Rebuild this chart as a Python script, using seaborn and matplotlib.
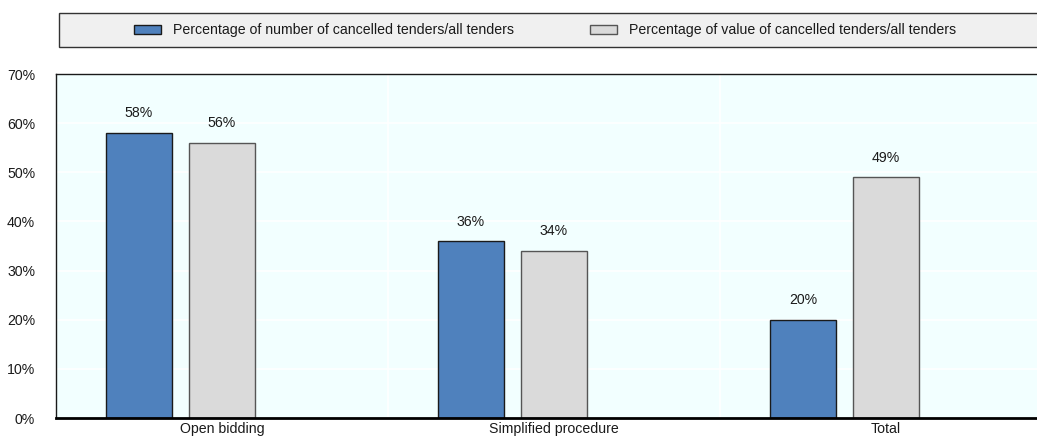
import matplotlib
matplotlib.use("Agg")
import matplotlib.pyplot as plt
from matplotlib.patches import Rectangle
from matplotlib.ticker import PercentFormatter, FixedLocator
import numpy as np
import pandas as pd
import seaborn as sns

# Data
categories = ["Open bidding", "Simplified procedure", "Total"]
series_names = [
    "Percentage of number of cancelled tenders/all tenders",
    "Percentage of value of cancelled tenders/all tenders",
]
share_number = [58, 36, 20]
share_value = [56, 34, 49]
y_ticks = [0, 10, 20, 30, 40, 50, 60, 70]

colors = ["#4F81BD", "#DADADA"]
edge_colors = ["#1a1a1a", "#555555"]

# Long-form table; a third, empty hue slot keeps the offset bar layout
spacer = "_spacer"
df = pd.DataFrame({
    "category": categories * 3,
    "series": [series_names[0]] * 3 + [series_names[1]] * 3 + [spacer] * 3,
    "value": share_number + share_value + [np.nan] * 3,
})

sns.set_theme(style="white")
plt.rcParams["font.family"] = ["Liberation Sans", "DejaVu Sans"]
plt.rcParams["font.size"] = 10

fig = plt.figure(figsize=(10.37, 4.42), dpi=100)
W, H = 1037, 442
ax = fig.add_axes([56 / W, 24 / H, (1052 - 56) / W, (418 - 74) / H])
ax.set_facecolor("#F2FFFF")

sns.barplot(
    data=df, x="category", y="value", hue="series",
    order=categories, hue_order=series_names + [spacer],
    palette=colors + ["#ffffff"], saturation=1, width=0.75, gap=0.2,
    linewidth=1.0, legend=False, ax=ax, errorbar=None,
)

containers = [c for c in ax.containers if len(c) > 0][:2]
for cont, ec, vals in zip(containers, edge_colors, [share_number, share_value]):
    for p in cont:
        p.set_edgecolor(ec)
        p.set_linewidth(1.0)
    ax.bar_label(cont, labels=[f"{v:.0f}%" for v in vals], padding=9,
                 fontsize=10.2, color="#1a1a1a")

ax.set_xlim(-0.5, 2.5)
ax.set_ylim(0, 70)
ax.yaxis.set_major_locator(FixedLocator(y_ticks))
ax.yaxis.set_major_formatter(PercentFormatter(decimals=0))
ax.set_xlabel("")
ax.set_ylabel("")

# Grid: white horizontal lines, white separators between categories
ax.xaxis.set_minor_locator(FixedLocator([0.5, 1.5]))
ax.grid(axis="y", which="major", color="white", linewidth=1.2)
ax.grid(axis="x", which="minor", color="white", linewidth=1.2)
ax.grid(axis="x", which="major", visible=False)
ax.set_axisbelow(True)

ax.tick_params(axis="y", which="major", direction="in", length=4, width=1,
               color="#1a1a1a", pad=15, labelsize=10.2, labelcolor="#1a1a1a")
ax.tick_params(axis="x", which="major", length=0, pad=3, labelsize=10.2,
               labelcolor="#1a1a1a")
ax.tick_params(axis="x", which="minor", direction="in", length=5, width=1,
               color="#1a1a1a")

for side in ["left", "top"]:
    ax.spines[side].set_visible(True)
    ax.spines[side].set_color("#1a1a1a")
    ax.spines[side].set_linewidth(1.0)
ax.spines["bottom"].set_color("#000000")
ax.spines["bottom"].set_linewidth(2.0)
ax.spines["right"].set_visible(False)

# Legend band across the top
fig.add_artist(Rectangle((59 / W, (H - 47) / H), (1100 - 59) / W, 34 / H,
                         transform=fig.transFigure, facecolor="#F0F0F0",
                         edgecolor="#333333", linewidth=1.0, clip_on=False))
handles = [Rectangle((0, 0), 1, 1, facecolor=c, edgecolor=e, linewidth=1.0)
           for c, e in zip(colors, edge_colors)]
fig.legend(handles, series_names, loc="center", bbox_to_anchor=(545 / W, (H - 30) / H),
           ncol=2, frameon=False, fontsize=10.2, handlelength=1.9, handleheight=0.6,
           handletextpad=0.85, columnspacing=5.4, labelcolor="#1a1a1a")

fig.savefig("out.png", dpi=100)
